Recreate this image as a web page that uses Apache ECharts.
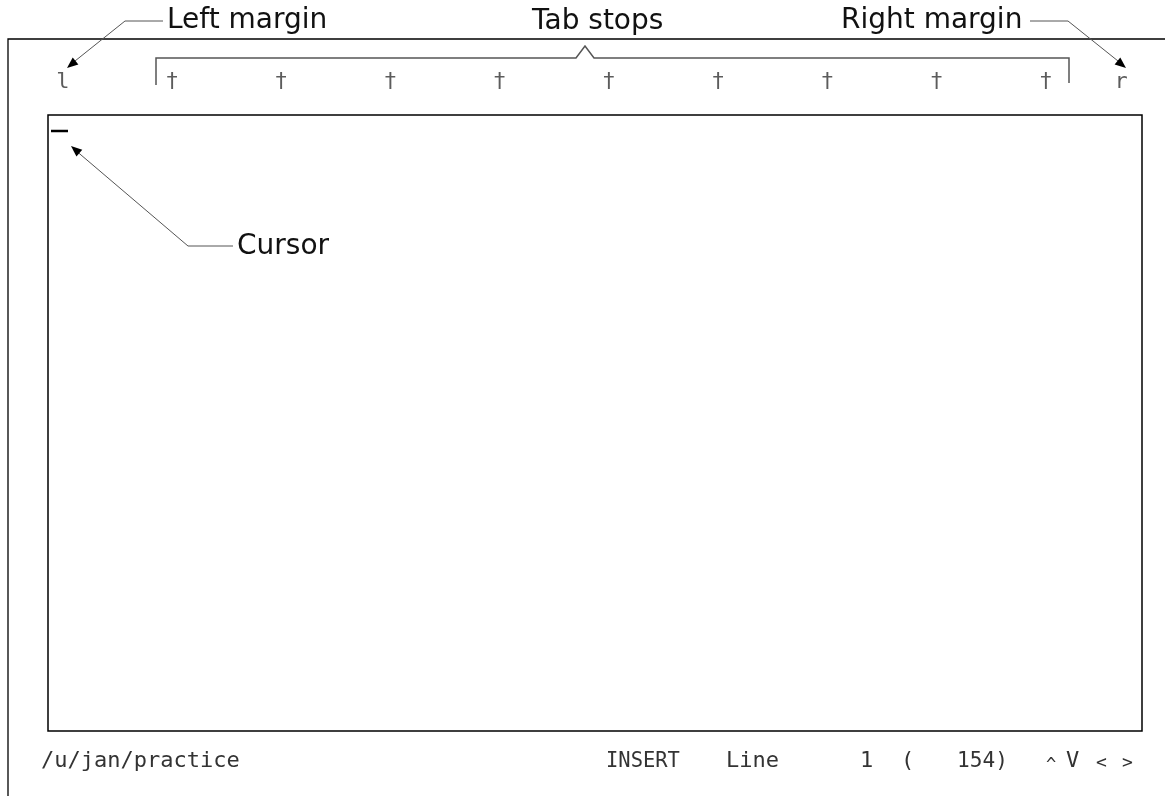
<!DOCTYPE html>
<html><head><meta charset="utf-8">
<script src="https://cdn.jsdelivr.net/npm/echarts@6/dist/echarts.min.js"></script>
<style>html,body{margin:0;padding:0;background:#fff}#c{width:1165px;height:796px}</style>
</head><body><div id="c"></div>
<script>
// Ruler data (editor columns)
const tabColumns = [8, 16, 24, 32, 40, 48, 56, 64, 72];
const marginColumns = [0, 77.5];
const marginLabels = ['l', 'r'];
const calloutLabels = ['Left margin', 'Tab stops', 'Right margin', 'Cursor'];
const statusPath = '/u/jan/practice';
const statusMode = 'INSERT';
const statusLineWord = 'Line';
const currentLine = 1;
const totalLines = 154;
const scrollKeys = ['^', 'V', '<', '>'];

const chart = echarts.init(document.getElementById('c'), null, {renderer: 'canvas'});

function arrowHead(from, to, len, hw) {
  const dx = to[0] - from[0], dy = to[1] - from[1];
  const d = Math.sqrt(dx * dx + dy * dy);
  const ux = dx / d, uy = dy / d;
  const bx = to[0] - ux * len, by = to[1] - uy * len;
  return {
    type: 'polygon',
    shape: {points: [to, [bx - uy * hw, by + ux * hw], [bx + uy * hw, by - ux * hw]]},
    style: {fill: '#000'}
  };
}
function pline(points, color, w) {
  return {type: 'polyline', shape: {points: points}, style: {stroke: color, lineWidth: w, fill: null}};
}
const labelFont = '"DejaVu Sans"';
const monoFont = '"DejaVu Sans Mono"';
function label(x, y, s) {
  return {type: 'text', x: x, y: y,
    style: {text: s, font: '28px ' + labelFont, fill: '#111', textVerticalAlign: 'bottom'}};
}
function stat(x, y, s, size, scaleX) {
  return {type: 'text', x: x, y: y, scaleX: scaleX || 1,
    style: {text: s, font: size + 'px ' + monoFont, fill: '#333', textVerticalAlign: 'bottom'}};
}

const graphics = [
  // outer frame
  pline([[8, 796], [8, 39], [1165, 39]], '#000', 1.3),
  // editing area box
  {type: 'rect', shape: {x: 48, y: 115, width: 1094, height: 616}, style: {stroke: '#000', lineWidth: 1.5, fill: null}},
  // tab stops bracket
  pline([[156, 85], [156, 58], [576, 58], [585, 46], [594, 58], [1069, 58], [1069, 83]], '#555', 1.5),
  // left margin callout
  pline([[163, 21], [125, 21], [70, 65]], '#555', 1),
  arrowHead([125, 21], [67, 68], 11, 4.5),
  // right margin callout
  pline([[1030, 21], [1068, 21], [1123, 65]], '#555', 1),
  arrowHead([1068, 21], [1126, 68], 11, 4.5),
  // cursor bar
  pline([[51, 131], [68, 131]], '#000', 2.5),
  // cursor callout
  pline([[233, 246], [188, 246], [74, 149]], '#555', 1),
  arrowHead([188, 246], [71, 146], 11, 4.5),
  // callout texts
  label(167, 35, calloutLabels[0]),
  label(532, 36, calloutLabels[1]),
  label(841, 35, calloutLabels[2]),
  label(237, 261, calloutLabels[3]),
  // status line
  stat(41, 772, statusPath, 22),
  stat(606, 772, statusMode, 22, 0.93),
  stat(726, 772, statusLineWord, 22),
  stat(860, 772, String(currentLine), 22),
  stat(901, 772, '(', 22),
  stat(957, 772, totalLines + ')', 22, 0.96),
  stat(1046, 774, scrollKeys[0], 17),
  stat(1066, 772, scrollKeys[1], 22),
  stat(1096, 772, scrollKeys[2], 18),
  stat(1122, 772, scrollKeys[3], 18)
];

const rulerData = tabColumns.map(c => ({value: [c, 0], name: '\u2020'}))
  .concat(marginColumns.map((c, i) => ({value: [c, 0], name: marginLabels[i]})));

chart.setOption({
  animation: false,
  backgroundColor: '#fff',
  grid: {left: 62.75, width: 80 * 13.656, top: 72, height: 20, show: false},
  xAxis: {type: 'value', min: 0, max: 80, show: false},
  yAxis: {type: 'value', min: -1, max: 1, show: false},
  series: [{
    type: 'scatter',
    data: rulerData,
    symbolSize: 1,
    itemStyle: {color: 'rgba(0,0,0,0)'},
    label: {
      show: true, position: 'inside', formatter: p => p.name,
      fontFamily: 'DejaVu Sans Mono', fontSize: 22, color: '#333'
    }
  }],
  graphic: graphics
});
</script></body></html>
